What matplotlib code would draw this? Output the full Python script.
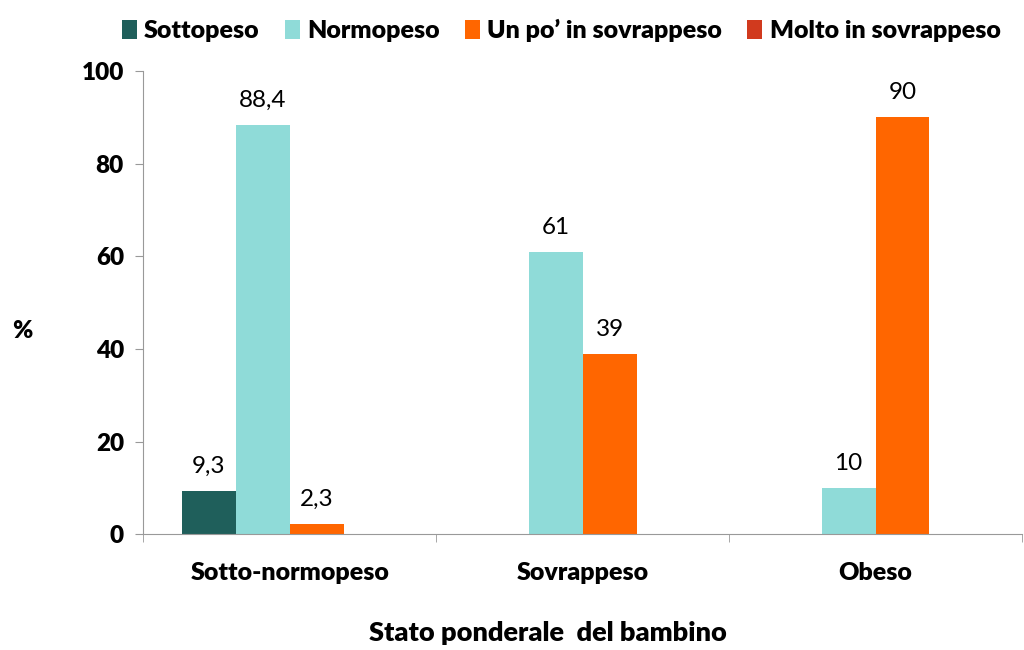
import matplotlib.pyplot as plt
import numpy as np

plt.rcParams['font.family'] = ['Lato', 'DejaVu Sans']

groups = ['Sotto-normopeso', 'Sovrappeso', 'Obeso']
series = ['Sottopeso', 'Normopeso', 'Un po\u2019 in sovrappeso', 'Molto in sovrappeso']
sottopeso = [9.3, None, None]
normopeso = [88.4, 61, 10]
un_po = [2.3, 39, 90]
molto = [None, None, None]
colors = ['#1F5F5B', '#8FDBD8', '#FF6600', '#D13A1E']

fig = plt.figure(figsize=(10.24, 6.5), dpi=100)
ax = fig.add_axes([0.14, 0.178, 0.858, 0.713])

x = np.arange(len(groups))
w = 0.184
all_vals = [sottopeso, normopeso, un_po, molto]
for i, (name, vals, c) in enumerate(zip(series, all_vals, colors)):
    pos = x + (i - 1.5) * w
    h = [v if v is not None else 0 for v in vals]
    ax.bar(pos, h, width=w, color=c, label=name, linewidth=0)
    for p, v in zip(pos, vals):
        if v is None:
            continue
        txt = ('%g' % v).replace('.', ',')
        ax.text(p, v + 3, txt, ha='center', va='bottom', fontsize=17.5)

bw = 'heavy'
ax.set_xlim(-0.5, 2.5)
ax.set_ylim(0, 100)
ax.set_yticks([0, 20, 40, 60, 80, 100])
ax.set_xticks(x)
ax.set_xticklabels(groups, fontsize=18, fontweight=bw)
ax.set_xticks([-0.5, 0.5, 1.5, 2.5], minor=True)
ax.tick_params(axis='x', which='major', length=0, pad=20)
ax.tick_params(axis='x', which='minor', length=6, color='#999999', direction='out')
ax.tick_params(axis='y', length=6, color='#999999', labelsize=17.5, pad=8)
for lab in ax.get_yticklabels():
    lab.set_fontweight(bw)

for s in ['top', 'right']:
    ax.spines[s].set_visible(False)
for s in ['left', 'bottom']:
    ax.spines[s].set_color('#999999')

fig.text(0.022, 0.49, '%', fontsize=17.5, fontweight=bw, ha='center', va='center')
fig.text(0.535, 0.008, 'Stato ponderale  del bambino', fontsize=19.5, fontweight=bw,
         ha='center', va='bottom')

fig.legend(loc='upper center', bbox_to_anchor=(0.548, 1.005), ncol=4, frameon=False,
           prop={'weight': bw, 'size': 18}, handlelength=0.6,
           handleheight=0.8, handletextpad=0.3, columnspacing=1.0)

fig.savefig('out.png', dpi=100)
